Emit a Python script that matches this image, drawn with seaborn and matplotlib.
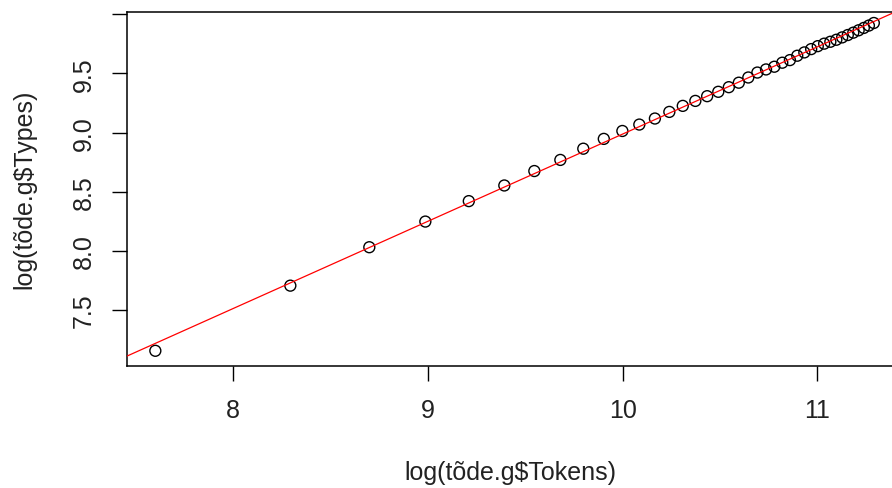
import numpy as np
import pandas as pd
import matplotlib
matplotlib.use("Agg")
import matplotlib.pyplot as plt
import seaborn as sns

# Cumulative token counts and the number of distinct types seen so far
tokens = [2000, 4000, 6000, 8000, 10000, 12000, 14000, 16000, 18000, 20000,
          22000, 24000, 26000, 28000, 30000, 32000, 34000, 36000, 38000, 40000,
          42000, 44000, 46000, 48000, 50000, 52000, 54000, 56000, 58000, 60000,
          62000, 64000, 66000, 68000, 70000, 72000, 74000, 76000, 78000, 80000]
types = [1281, 2222, 3075, 3820, 4541, 5183, 5856, 6433, 7074, 7686,
         8217, 8675, 9129, 9655, 10160, 10596, 11028, 11444, 11899, 12360,
         12916, 13467, 13825, 14146, 14636, 14961, 15525, 15966, 16419, 16835,
         17192, 17470, 17770, 18129, 18495, 18869, 19250, 19639, 20036, 20476]

x_ticks = [8, 9, 10, 11]
y_ticks = [7.5, 8.0, 8.5, 9.0, 9.5, 10.0]
y_tick_labels = ["7.5", "8.0", "8.5", "9.0", "9.5", ""]

df = pd.DataFrame({"log_tokens": np.log(tokens), "log_types": np.log(types)})

sns.set_style("white")
plt.rcParams["font.family"] = ["Liberation Sans", "DejaVu Sans"]

fig = plt.figure(figsize=(8.92, 4.89), dpi=100)
ax = fig.add_axes([0.1424, 0.2505, 0.8580, 0.7239])
ax.set_xlim(7.4555, 11.385)
ax.set_ylim(7.031, 10.024)

sns.scatterplot(data=df, x="log_tokens", y="log_types", ax=ax,
                marker="o", s=62, facecolor="none", edgecolor="black",
                linewidth=1.0, zorder=3)
sns.regplot(data=df, x="log_tokens", y="log_types", ax=ax, scatter=False,
            ci=None, truncate=False, color="red",
            line_kws={"linewidth": 0.9, "zorder": 4})
ax.set_xlim(7.4555, 11.385)
ax.set_ylim(7.031, 10.024)

ax.set_xticks(x_ticks)
ax.set_xticklabels([str(t) for t in x_ticks])
ax.set_yticks(y_ticks)
ax.set_yticklabels(y_tick_labels, rotation=90, va="center")

ax.tick_params(axis="both", which="major", direction="out", length=10.5,
               width=1.0, color="black", labelsize=18, labelcolor="#222222",
               bottom=True, left=True, top=False, right=False)
ax.tick_params(axis="x", pad=13)
ax.tick_params(axis="y", pad=12)

for side in ["left", "bottom", "top"]:
    ax.spines[side].set_visible(True)
    ax.spines[side].set_color("black")
    ax.spines[side].set_linewidth(1.1)
ax.spines["right"].set_visible(False)

ax.set_xlabel("log(tõde.g$Tokens)", fontsize=18, color="#222222")
ax.set_ylabel("log(tõde.g$Types)", fontsize=18, color="#222222")
ax.xaxis.label.set_va("center")
ax.yaxis.label.set_va("center")
ax.xaxis.set_label_coords(0.501, -0.301)
ax.yaxis.set_label_coords(-0.1346, 0.5)

fig.savefig("out.png", dpi=100)
